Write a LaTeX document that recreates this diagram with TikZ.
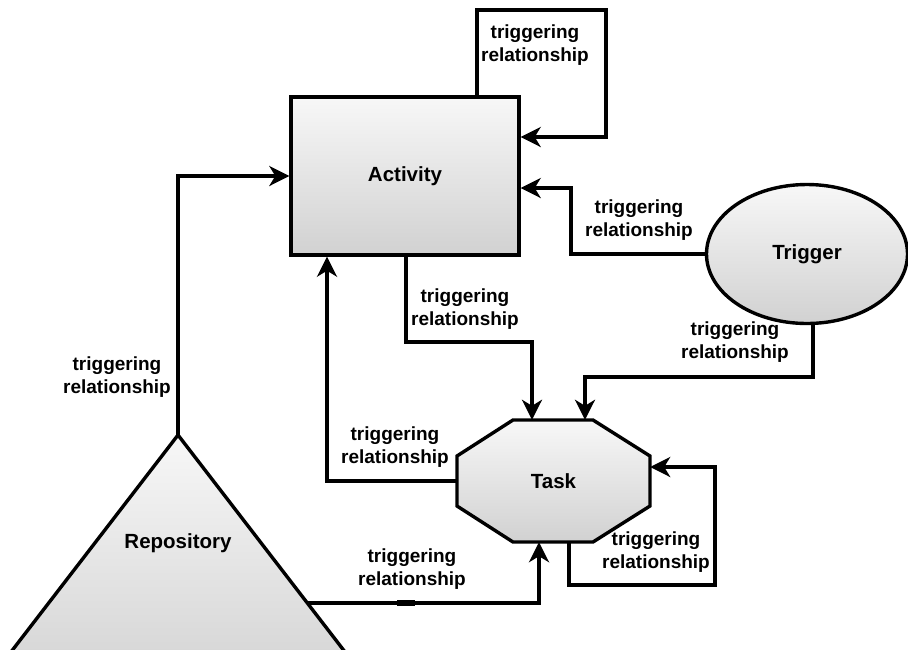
\documentclass[tikz,border=0pt]{standalone}
\usepackage{fontspec}
\setmainfont{Liberation Sans}
\usetikzlibrary{arrows.meta,shapes.geometric,calc}

\begin{document}
\begin{tikzpicture}[x=1pt,y=-1pt,
  every node/.style={font=\bfseries},
  shapefill/.style={draw=black, line width=3.4pt, line join=miter,
    top color=white!97!black, bottom color=white!82!black},
  link/.style={draw=black, line width=3.4pt, line join=miter,
    -{Stealth[length=20pt,width=20pt,inset=6pt]}},
  rel/.style={align=center, inner sep=0pt,
    font=\bfseries\fontsize{19}{22.5}\selectfont},
  nodetext/.style={font=\bfseries\fontsize{20.5}{24}\selectfont}
]
\useasboundingbox (0,0) rectangle (908,649);
\clip (0,0) rectangle (908,649);

% --- shapes ---
\node[shapefill, rectangle, minimum width=228pt, minimum height=158pt,
      nodetext] (act) at (405,176) {Activity};

\node[shapefill, ellipse, minimum width=201pt, minimum height=139pt,
      inner sep=0pt, nodetext] (trig) at (807,254) {Trigger};

% octagon outline for the task, text node on top
\path[shapefill] (513,420) -- (593,420) -- (650,456) -- (650,506)
  -- (593,542) -- (513,542) -- (457,506) -- (457,456) -- cycle;
\node[nodetext, rectangle, minimum width=193pt, minimum height=122pt,
      inner sep=0pt] (task) at (553.5,481) {Task};

% repository triangle, base running off the page
\path[shapefill] (178,435) -- (382,700) -- (-26,700) -- cycle;
\coordinate (apex) at (178,435);
\node[nodetext] (repo) at (178,543) {Repository};

% --- route corners ---
\coordinate (a1) at (477,10);
\coordinate (a2) at (606,137);
\coordinate (b1) at (571,188);
\coordinate (c1) at (406,342);
\coordinate (c2) at (532,342);
\coordinate (d1) at (813,377);
\coordinate (d2) at (585,377);
\coordinate (e1) at (327,480);
\coordinate (g1) at (569,585);
\coordinate (g2) at (715,467);
\coordinate (h1) at (308,603);
\coordinate (h2) at (539,603);

% --- connectors ---
\draw[link] (act.north -| a1) -- (a1) -| (a2) -- (act.east |- a2);
\draw[link] (trig.west) -| (b1) -- (act.east |- b1);
\draw[link] (act.south -| c1) -- (c1) -- (c2) -- (task.north -| c2);
\draw[link] (trig.south -| d1) -- (d1) -- (d2) -- (task.north -| d2);
\draw[link] (task.west) -| (act.south -| e1);
\draw[link] (apex) |- (act.west);
\draw[link] (task.south -| g1) -- (g1) -| (g2) -- (task.east |- g2);
\draw[link] (h1) -- (h2) -- (task.south -| h2);
\fill (397,600) rectangle (415,606);

% --- connector labels ---
\node[rel] (lab1) at (535,45)  {triggering\\relationship};
\node[rel] (lab2) at (639,220) {triggering\\relationship};
\node[rel] (lab3) at (465,309) {triggering\\relationship};
\node[rel] (lab4) at (735,342) {triggering\\relationship};
\node[rel] (lab5) at (395,447) {triggering\\relationship};
\node[rel] (lab6) at (412,569) {triggering\\relationship};
\node[rel] (lab7) at (656,552) {triggering\\relationship};
\node[rel] (lab8) at (117,377) {triggering\\relationship};
\end{tikzpicture}
\end{document}
